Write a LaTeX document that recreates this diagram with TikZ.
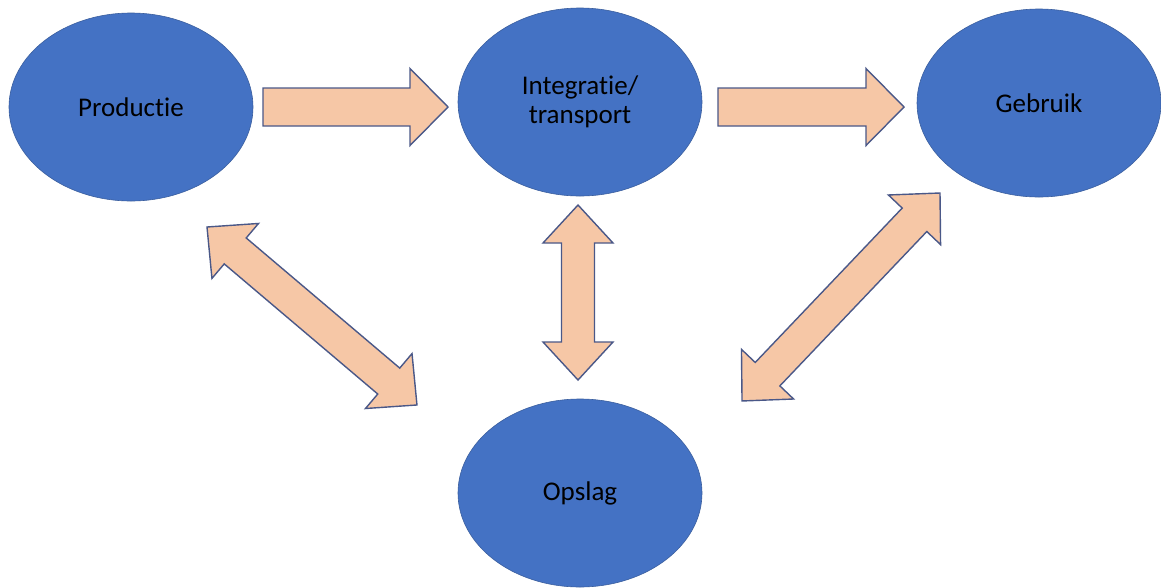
\documentclass[tikz,border=0pt]{standalone}
\usepackage{fontspec}
\setmainfont[Ligatures=NoCommon]{Carlito}
\usetikzlibrary{calc,shapes.geometric}

\definecolor{stageblue}{HTML}{4472C4}
\definecolor{stageedge}{HTML}{3A5E9E}
\definecolor{flowfill}{HTML}{F6C7A6}
\definecolor{flowedge}{HTML}{4A5888}

% Block arrow between two named points.
% #1 from, #2 to, #3 shaft half width, #4 head half width, #5 head length, #6 1 = double headed
\newcommand\blockarrow[6]{%
  \path let \p1=(#1), \p2=(#2) in \pgfextra{%
    \pgfmathsetmacro\baang{atan2(\y2-\y1,\x2-\x1)}%
    \pgfmathsetmacro\balen{veclen(\x2-\x1,\y2-\y1)}%
    \xdef\baang{\baang}\xdef\balen{\balen}\xdef\bax{\x1}\xdef\bay{\y1}};
  \begin{scope}[shift={(\bax,\bay)}, rotate=\baang, x=1pt, y=1pt]
    \ifnum#6=1
      \draw[flow] (0,0) -- (#5,-#4) -- (#5,-#3) -- (\balen-#5,-#3) -- (\balen-#5,-#4)
        -- (\balen,0) -- (\balen-#5,#4) -- (\balen-#5,#3) -- (#5,#3) -- (#5,#4) -- cycle;
    \else
      \draw[flow] (0,-#3) -- (\balen-#5,-#3) -- (\balen-#5,-#4) -- (\balen,0)
        -- (\balen-#5,#4) -- (\balen-#5,#3) -- (0,#3) -- cycle;
    \fi
  \end{scope}}

\tikzset{
  stage/.style={ellipse, fill=stageblue, draw=stageedge, line width=0.6pt,
    minimum width=244pt, minimum height=188pt, inner sep=0pt,
    font=\fontsize{27}{31}\selectfont, text=black, align=center},
  flow/.style={fill=flowfill, draw=flowedge, line width=1.4pt, line join=miter},
}

\begin{document}
\begin{tikzpicture}[x=1pt, y=-1pt]
  \useasboundingbox (0,0) rectangle (1161,587);
  \fill[white] (0,0) rectangle (1161,587);

  % stages
  \node[stage] (prod) at (131,107) {Productie};
  \node[stage] (int)  at (580,102) {Integratie/\\[-2pt]transport};
  \node[stage] (geb)  at (1039,103) {Gebruik};
  \node[stage] (ops)  at (580,493) {Opslag};

  % arrow end points next to the stages
  \coordinate (prod-int-a) at (263,107);
  \coordinate (prod-int-b) at (448,107);
  \coordinate (int-geb-a)  at (718,107);
  \coordinate (int-geb-b)  at (904,107);
  \coordinate (int-ops-a)  at (578,205);
  \coordinate (int-ops-b)  at (578,380);
  \coordinate (prod-ops-a) at (207,227);
  \coordinate (prod-ops-b) at (417,405);
  \coordinate (geb-ops-a)  at (940,193);
  \coordinate (geb-ops-b)  at (742,401);

  % flows
  \blockarrow{prod-int-a}{prod-int-b}{19}{38.5}{38}{0}
  \blockarrow{int-geb-a}{int-geb-b}{19}{38.5}{38}{0}
  \blockarrow{int-ops-a}{int-ops-b}{16.5}{35}{38}{1}
  \blockarrow{prod-ops-a}{prod-ops-b}{17}{36}{37}{1}
  \blockarrow{geb-ops-a}{geb-ops-b}{17}{36}{37}{1}
\end{tikzpicture}
\end{document}
